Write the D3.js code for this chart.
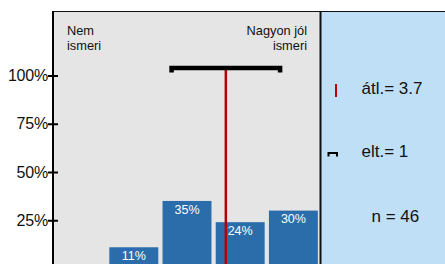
<!DOCTYPE html>
<html><head><meta charset="utf-8">
<script src="https://cdn.jsdelivr.net/npm/d3@7"></script>
<style>html,body{margin:0;padding:0;background:#fff;}svg{display:block;}</style>
</head><body>
<script>
const categories = [1, 2, 3, 4, 5];
const values = [0, 11, 35, 24, 30];
const yTicks = [0.25, 0.5, 0.75, 1.0];
const endLabels = [["Nem", "ismeri"], ["Nagyon jól", "ismeri"]];
const meanValue = 3.73;
const sdValue = 1.02;
const statLabels = ["átl.= 3.7", "elt.= 1", "n = 46"];

const W = 445, H = 264;
const svg = d3.select("body").append("svg").attr("width", W).attr("height", H)
  .style("font-family", "'Liberation Sans', Arial, sans-serif");

const pLeft = 53, pRight = 320, pTop = 11;
const x = d3.scaleBand().domain(categories).range([pLeft + 1, pRight]).paddingInner(0.08).paddingOuter(0.04);
const xl = d3.scaleLinear().domain([1, 5]).range([x(1) + x.bandwidth() / 2, x(5) + x.bandwidth() / 2]);
const y = d3.scaleLinear().domain([0, 1]).range([268.5, 75.5]);

// backgrounds
svg.append("rect").attr("x", pLeft).attr("y", pTop).attr("width", pRight - pLeft).attr("height", H - pTop).attr("fill", "#e5e5e5");
svg.append("rect").attr("x", pRight).attr("y", pTop).attr("width", W - pRight).attr("height", H - pTop).attr("fill", "#bfdff6");
svg.append("line").attr("x1", pLeft).attr("x2", W).attr("y1", pTop + 0.5).attr("y2", pTop + 0.5).attr("stroke", "#111").attr("stroke-width", 1.2);
svg.append("line").attr("x1", pRight + 0.5).attr("x2", pRight + 0.5).attr("y1", pTop).attr("y2", H).attr("stroke", "#111").attr("stroke-width", 2);

// bars
const barData = categories.map((c, i) => ({c, v: values[i]})).filter(d => d.v > 0);
svg.selectAll("rect.bar").data(barData)
  .enter().append("rect").attr("class", "bar")
  .attr("x", d => x(d.c)).attr("width", x.bandwidth())
  .attr("y", d => y(d.v / 100)).attr("height", d => y(0) - y(d.v / 100))
  .attr("fill", "#2b6dab");
svg.selectAll("text.bl").data(barData)
  .enter().append("text").attr("class", "bl")
  .attr("x", d => x(d.c) + x.bandwidth() / 2).attr("y", d => y(d.v / 100) + 12.8)
  .attr("text-anchor", "middle").attr("fill", "#fff").attr("font-size", 12.5)
  .text(d => d.v + "%");

// y axis
const yAxis = d3.axisLeft(y).tickValues(yTicks).tickFormat(d3.format(".0%")).tickSize(0).tickPadding(5);
const ga = svg.append("g").attr("transform", `translate(${pLeft},0)`).call(yAxis);
ga.select(".domain").remove();
ga.selectAll("text").attr("font-size", 16).attr("fill", "#111").style("font-family", "'Liberation Sans', Arial, sans-serif").attr("letter-spacing", -0.2);
ga.selectAll(".tick").append("line").attr("x1", -5).attr("x2", 5).attr("stroke", "#000").attr("stroke-width", 2);
svg.append("line").attr("x1", pLeft).attr("x2", pLeft).attr("y1", pTop).attr("y2", H).attr("stroke", "#000").attr("stroke-width", 2);

// end labels
const lab1 = svg.append("text").attr("font-size", 12.8).attr("fill", "#111");
lab1.selectAll("tspan").data(endLabels[0]).enter().append("tspan").attr("x", 67).attr("y", (d, i) => 34.8 + i * 14.8).text(d => d);
const lab2 = svg.append("text").attr("font-size", 12.8).attr("fill", "#111").attr("text-anchor", "end");
lab2.selectAll("tspan").data(endLabels[1]).enter().append("tspan").attr("x", 307).attr("y", (d, i) => 35 + i * 14.8).text(d => d);

// mean line and SD bracket
const mx = xl(meanValue);
svg.append("line").attr("x1", mx).attr("x2", mx).attr("y1", 68).attr("y2", H).attr("stroke", "#b40000").attr("stroke-width", 2.5);
const s0 = xl(meanValue - sdValue), s1 = xl(meanValue + sdValue);
svg.append("path").attr("d", `M${s0},72.5 L${s0},68 L${s1},68 L${s1},72.5`)
  .attr("fill", "none").attr("stroke", "#000").attr("stroke-width", 4.5).attr("stroke-linejoin", "miter");

// legend
svg.append("line").attr("x1", 336).attr("x2", 336).attr("y1", 84).attr("y2", 97).attr("stroke", "#c00000").attr("stroke-width", 2);
svg.append("path").attr("d", "M328.5,156.5 L328.5,153 L337,153 L337,156.5").attr("fill", "none").attr("stroke", "#000").attr("stroke-width", 2);
const legY = [94.3, 156.7, 221.7];
const legX = [361.5, 361.5, 371.5];
svg.selectAll("text.leg").data(statLabels).enter().append("text").attr("class", "leg")
  .attr("x", (d, i) => legX[i]).attr("y", (d, i) => legY[i])
  .attr("font-size", 17).attr("fill", "#111")
  .text(d => d);
</script>
</body></html>
